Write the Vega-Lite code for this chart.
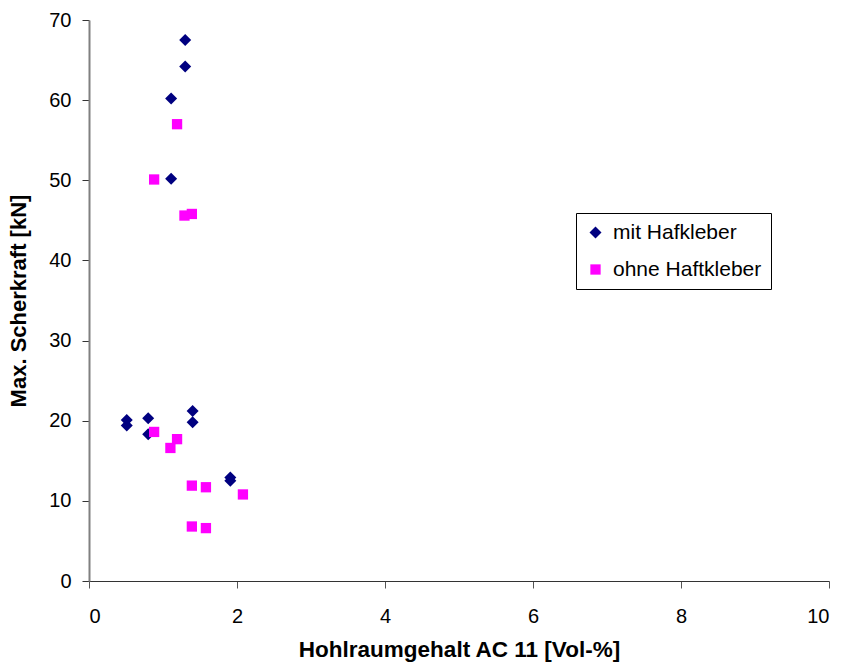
{
  "$schema": "https://vega.github.io/schema/vega-lite/v6.json",
  "width": 740,
  "height": 561,
  "autosize": "none",
  "padding": {"left": 89, "top": 20, "right": 16, "bottom": 83},
  "background": "white",
  "config": {
    "view": {"stroke": null},
    "font": "Liberation Sans"
  },
  "data": {
    "values": [
      {"hohlraum": 1.30, "kraft": 67.5, "serie": "mit Hafkleber"},
      {"hohlraum": 1.30, "kraft": 64.2, "serie": "mit Hafkleber"},
      {"hohlraum": 1.11, "kraft": 60.2, "serie": "mit Hafkleber"},
      {"hohlraum": 1.11, "kraft": 50.2, "serie": "mit Hafkleber"},
      {"hohlraum": 0.51, "kraft": 20.1, "serie": "mit Hafkleber"},
      {"hohlraum": 0.51, "kraft": 19.4, "serie": "mit Hafkleber"},
      {"hohlraum": 0.80, "kraft": 20.3, "serie": "mit Hafkleber"},
      {"hohlraum": 0.80, "kraft": 18.3, "serie": "mit Hafkleber"},
      {"hohlraum": 1.40, "kraft": 21.2, "serie": "mit Hafkleber"},
      {"hohlraum": 1.40, "kraft": 19.8, "serie": "mit Hafkleber"},
      {"hohlraum": 1.91, "kraft": 12.9, "serie": "mit Hafkleber"},
      {"hohlraum": 1.91, "kraft": 12.5, "serie": "mit Hafkleber"},
      {"hohlraum": 1.19, "kraft": 57.0, "serie": "ohne Haftkleber"},
      {"hohlraum": 0.88, "kraft": 50.1, "serie": "ohne Haftkleber"},
      {"hohlraum": 1.29, "kraft": 45.6, "serie": "ohne Haftkleber"},
      {"hohlraum": 1.39, "kraft": 45.8, "serie": "ohne Haftkleber"},
      {"hohlraum": 0.88, "kraft": 18.6, "serie": "ohne Haftkleber"},
      {"hohlraum": 1.19, "kraft": 17.7, "serie": "ohne Haftkleber"},
      {"hohlraum": 1.10, "kraft": 16.6, "serie": "ohne Haftkleber"},
      {"hohlraum": 1.39, "kraft": 11.9, "serie": "ohne Haftkleber"},
      {"hohlraum": 1.58, "kraft": 11.7, "serie": "ohne Haftkleber"},
      {"hohlraum": 2.08, "kraft": 10.8, "serie": "ohne Haftkleber"},
      {"hohlraum": 1.39, "kraft": 6.8, "serie": "ohne Haftkleber"},
      {"hohlraum": 1.58, "kraft": 6.6, "serie": "ohne Haftkleber"}
    ]
  },
  "mark": {"type": "point", "filled": true, "opacity": 1, "strokeWidth": 0},
  "encoding": {
    "x": {
      "field": "hohlraum",
      "type": "quantitative",
      "scale": {"domain": [0, 10], "nice": false, "zero": true},
      "axis": {
        "title": "Hohlraumgehalt AC 11 [Vol-%]",
        "titleFont": "Liberation Sans",
        "titleFontSize": 22.5,
        "titleFontWeight": "bold",
        "titleColor": "#000000",
        "titlePadding": 12,
        "values": [0, 2, 4, 6, 8, 10],
        "labelFont": "Liberation Sans",
        "labelFontSize": 20,
        "labelColor": "#000000",
        "labelPadding": 18,
        "tickSize": 7,
        "tickColor": "#555555",
        "domainColor": "#333333",
        "domainWidth": 1,
        "grid": false
      }
    },
    "y": {
      "field": "kraft",
      "type": "quantitative",
      "scale": {"domain": [0, 70], "nice": false},
      "axis": {
        "title": "Max. Scherkraft [kN]",
        "titleFont": "Liberation Sans",
        "titleFontSize": 22,
        "titleFontWeight": "bold",
        "titleColor": "#000000",
        "titlePadding": 18,
        "values": [0, 10, 20, 30, 40, 50, 60, 70],
        "labelFont": "Liberation Sans",
        "labelFontSize": 20,
        "labelColor": "#000000",
        "labelPadding": 11,
        "tickSize": 7,
        "tickColor": "#333333",
        "domainColor": "#808080",
        "domainWidth": 2,
        "grid": false
      }
    },
    "color": {
      "field": "serie",
      "type": "nominal",
      "scale": {"domain": ["mit Hafkleber", "ohne Haftkleber"], "range": ["#000080", "#FF00FF"]},
      "legend": {
        "title": null,
        "orient": "none",
        "legendX": 487,
        "legendY": 193,
        "strokeColor": "#000000",
        "fillColor": "#ffffff",
        "padding": 9,
        "rowPadding": 15,
        "labelFont": "Liberation Sans",
        "labelFontSize": 21,
        "labelColor": "#000000",
        "labelOffset": 7,
        "symbolSize": 100
      }
    },
    "shape": {
      "field": "serie",
      "type": "nominal",
      "scale": {"domain": ["mit Hafkleber", "ohne Haftkleber"], "range": ["diamond", "square"]}
    },
    "size": {
      "field": "serie",
      "type": "nominal",
      "scale": {"domain": ["mit Hafkleber", "ohne Haftkleber"], "range": [144, 106]}
    }
  }
}
